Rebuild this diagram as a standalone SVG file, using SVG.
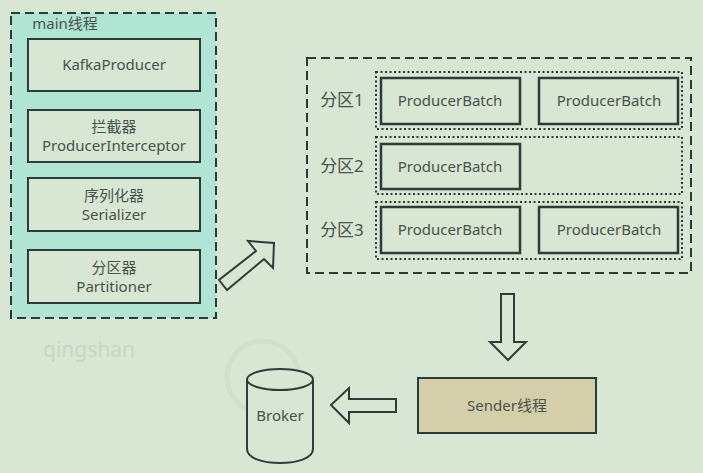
<svg xmlns="http://www.w3.org/2000/svg" width="703" height="473" viewBox="0 0 703 473">
<style>
text{font-family:"Noto Sans","Noto Sans CJK SC",sans-serif;font-size:15px;fill:#4a524c;text-anchor:middle}
.box{fill:#d8e6d4;stroke:#2a3b38;stroke-width:2}
.batch{fill:#d8e6d4;stroke:#2f3b38;stroke-width:2.500}
.dash{stroke:#2a3b38;stroke-width:2;stroke-dasharray:9 5}
.dot{fill:none;stroke:#2a3b38;stroke-width:2;stroke-dasharray:2 2.500}
.arrow{fill:#d8e6d4;stroke:#2f3d39;stroke-width:2}
</style>
<rect width="703" height="473" fill="#d8e6d4"/>
<circle cx="263" cy="377" r="36" fill="none" stroke="#d1dfcd" stroke-width="5"/>
<text id="watermark" x="89" y="357" style="font-size:21px;fill:#c8d6c5">qingshan</text>
<g id="main-thread">
<rect class="dash" x="11" y="13" width="205" height="305" fill="#b0e5d3"/>
<text x="65" y="29">main线程</text>
</g>
<g id="kafka-producer"><rect class="box" x="28" y="39" width="172" height="52"/><text x="114" y="70">KafkaProducer</text></g>
<g id="interceptor"><rect class="box" x="28" y="110" width="172" height="52"/><text x="114" y="132">拦截器</text><text x="114" y="151">ProducerInterceptor</text></g>
<g id="serializer"><rect class="box" x="28" y="178" width="172" height="53"/><text x="114" y="201">序列化器</text><text x="114" y="220">Serializer</text></g>
<g id="partitioner"><rect class="box" x="28" y="250" width="172" height="53"/><text x="114" y="273">分区器</text><text x="114" y="292">Partitioner</text></g>
<g id="accumulator">
<rect class="dash" x="307" y="58" width="384" height="215" fill="none"/>
<text x="342" y="106" style="font-size:17px">分区1</text>
<text x="342" y="172" style="font-size:17px">分区2</text>
<text x="342" y="236" style="font-size:17px">分区3</text>
<rect class="dot" x="376" y="72" width="306" height="57"/>
<rect class="dot" x="376" y="137" width="306" height="57"/>
<rect class="dot" x="376" y="202" width="306" height="57"/>
</g>
<g id="batch-1-1"><rect class="batch" x="381" y="78" width="139" height="46"/><text x="450" y="106">ProducerBatch</text></g>
<g id="batch-1-2"><rect class="batch" x="539" y="78" width="139" height="46"/><text x="609" y="106">ProducerBatch</text></g>
<g id="batch-2-1"><rect class="batch" x="381" y="144" width="139" height="45"/><text x="450" y="172">ProducerBatch</text></g>
<g id="batch-3-1"><rect class="batch" x="381" y="207" width="139" height="46"/><text x="450" y="235">ProducerBatch</text></g>
<g id="batch-3-2"><rect class="batch" x="539" y="207" width="139" height="46"/><text x="609" y="235">ProducerBatch</text></g>
<g id="sender"><rect x="418" y="378" width="178" height="55" fill="#d5ceaa" stroke="#2a3b38" stroke-width="2"/><text x="507" y="411">Sender线程</text></g>
<g id="broker">
<path d="M247 380V449C247 458 262 463 280 463S313 458 313 449V380" fill="#d8e6d4" stroke="#2f3d39" stroke-width="2"/>
<ellipse cx="280" cy="379.500" rx="33" ry="10.500" fill="#d8e6d4" stroke="#2f3d39" stroke-width="2"/>
<text x="280" y="421">Broker</text>
</g>
<g id="connectors">
<path class="arrow" d="M219 280L227 290L264 259L273 268L274 243L248 241L256 251Z"/>
<path class="arrow" d="M501 294H514V342H526L508 360L490 342H501Z"/>
<path class="arrow" d="M396 399V412H349V423L331 405L349 388V399Z"/>
</g>
</svg>
